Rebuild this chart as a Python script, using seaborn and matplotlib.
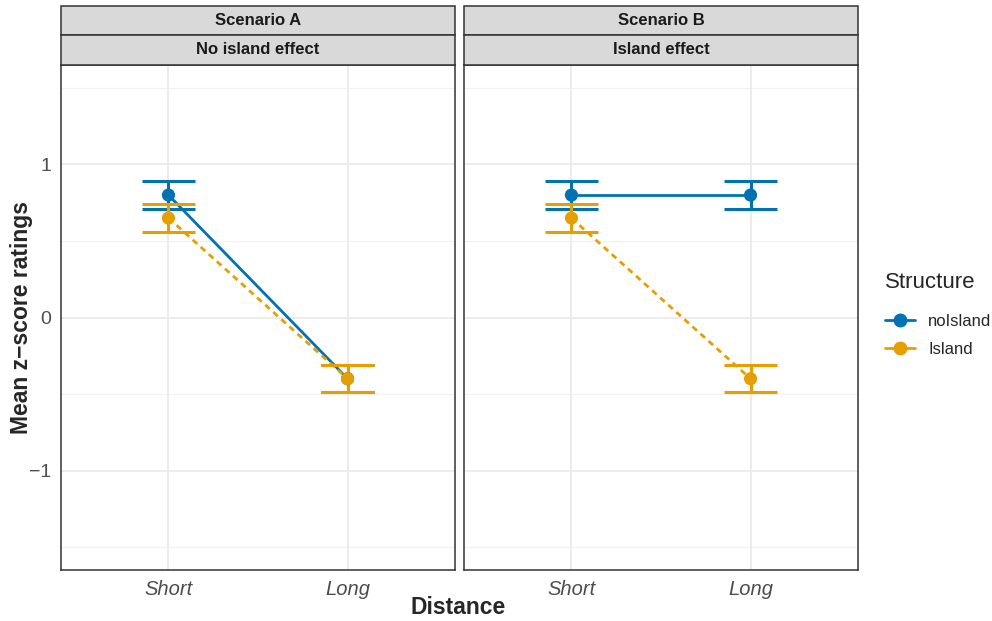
import matplotlib
matplotlib.use("Agg")
import matplotlib.pyplot as plt
from matplotlib.lines import Line2D
from matplotlib.patches import Rectangle
import numpy as np
import pandas as pd
import seaborn as sns

# ---- data ----
distance = ["Short", "Long"]
structure = ["noIsland", "Island"]
scenarios = ["Scenario A", "Scenario B"]
effects = ["No island effect", "Island effect"]

a_noisland = [0.80, -0.40]
a_island = [0.65, -0.40]
b_noisland = [0.80, 0.80]
b_island = [0.65, -0.40]
a_noisland_se = [0.09, 0.09]
a_island_se = [0.09, 0.09]
b_noisland_se = [0.09, 0.09]
b_island_se = [0.09, 0.09]

yticks = [-1, 0, 1]

rows = []
for scen, eff, vals in [
    (scenarios[0], effects[0], [(structure[0], a_noisland, a_noisland_se), (structure[1], a_island, a_island_se)]),
    (scenarios[1], effects[1], [(structure[0], b_noisland, b_noisland_se), (structure[1], b_island, b_island_se)]),
]:
    for s, m, e in vals:
        for i, d in enumerate(distance):
            rows.append(dict(Scenario=scen, Effect=eff, Structure=s, Distance=d,
                             pos=i, mean=m[i], se=e[i]))
df = pd.DataFrame(rows)

# ---- style ----
sns.set_theme(style="white")
plt.rcParams["font.family"] = ["Liberation Sans", "DejaVu Sans"]

palette = {"noIsland": "#0072B2", "Island": "#E69F00"}
dashes = {"noIsland": "", "Island": (2.2, 1.7)}

W, H = 992, 621
fig = plt.figure(figsize=(W / 100, H / 100), dpi=100)

def fx(px):
    return px / W

def fy(py):
    return 1 - py / H

panel_left = [61, 464]
panel_w = 394
panel_top, panel_bot = 65, 570
strip1 = (6, 35)
strip2 = (35, 65)
border = "#333333"

for k, (scen, eff) in enumerate(zip(scenarios, effects)):
    ax = fig.add_axes([fx(panel_left[k]), fy(panel_bot), panel_w / W, (panel_bot - panel_top) / H])
    sub = df[df.Scenario == scen]

    # grid
    for y in [-1.5, -0.5, 0.5, 1.5]:
        ax.axhline(y, color="#F2F2F2", lw=0.9, zorder=0)
    for y in yticks:
        ax.axhline(y, color="#EBEBEB", lw=1.3, zorder=0)
    for x in range(len(distance)):
        ax.axvline(x, color="#EBEBEB", lw=1.3, zorder=0)

    sns.lineplot(data=sub, x="pos", y="mean", hue="Structure", style="Structure",
                 hue_order=structure, style_order=structure, palette=palette,
                 dashes=dashes, lw=2.0, legend=False, ax=ax, zorder=2)

    for s in structure:
        d = sub[sub.Structure == s]
        c = palette[s]
        ax.vlines(d.pos, d["mean"] - d.se, d["mean"] + d.se, color=c, lw=2.2, zorder=3)
        ax.hlines(d["mean"] - d.se, d.pos - 0.15, d.pos + 0.15, color=c, lw=2.2, zorder=3)
        ax.hlines(d["mean"] + d.se, d.pos - 0.15, d.pos + 0.15, color=c, lw=2.2, zorder=3)
        sns.scatterplot(x=d.pos, y=d["mean"], color=c, s=90, edgecolor="none",
                        ax=ax, zorder=4, legend=False)

    ax.set_xlim(-0.6, 1.6)
    ax.set_ylim(-1.65, 1.65)
    ax.set_xticks(range(len(distance)))
    ax.set_xticklabels(distance, fontstyle="italic", fontsize=14.5)
    ax.set_yticks(yticks)
    if k == 0:
        ax.set_yticklabels(["\u22121", "0", "1"])
    else:
        ax.set_yticklabels([])
    ax.set_xlabel("")
    ax.set_ylabel("")
    ax.tick_params(axis="both", labelcolor="#4D4D4D", labelsize=14, length=4, width=1,
                   direction="out", pad=3, color=border)
    ax.tick_params(axis="x", labelsize=14.5)
    if k == 1:
        ax.tick_params(axis="y", length=0)
    for sp in ax.spines.values():
        sp.set_color(border)
        sp.set_linewidth(1.1)
        sp.set_visible(True)

    # facet strips
    for (t0, t1), label in [(strip1, scen), (strip2, eff)]:
        fig.patches.append(Rectangle((fx(panel_left[k]), fy(t1)), panel_w / W, (t1 - t0) / H,
                                     transform=fig.transFigure, facecolor="#D9D9D9",
                                     edgecolor=border, lw=1.1, zorder=1))
        fig.text(fx(panel_left[k] + panel_w / 2), fy((t0 + t1) / 2), label,
                 ha="center", va="center", fontsize=12, fontweight="bold", color="#1A1A1A")

fig.text(fx(458), fy(607), "Distance", ha="center", va="center", fontsize=16.5, fontweight="bold")
fig.text(fx(22), fy(317), "Mean z\u2212score ratings", ha="center", va="center",
         rotation=90, fontsize=16.5, fontweight="bold")

# legend
fig.text(fx(885), fy(283), "Structure", ha="left", va="center", fontsize=16)
handles = [Line2D([], [], color=palette[s], lw=2.0, marker="o", markersize=9, linestyle="-")
           for s in structure]
leg = fig.legend(handles, structure, loc="upper left",
                 bbox_to_anchor=(fx(885), fy(314)), frameon=False, fontsize=12,
                 handlelength=1.8, handletextpad=0.8,
                 labelspacing=0.75, borderaxespad=0, borderpad=0)

fig.savefig("out.png", dpi=100)
